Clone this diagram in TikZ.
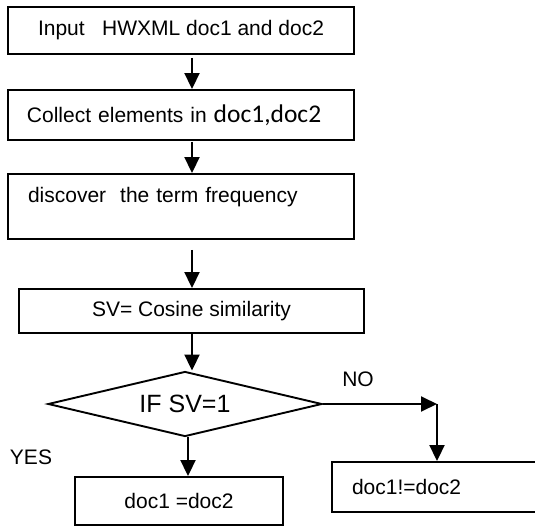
\documentclass[tikz,border=0pt]{standalone}
\usepackage{fontspec}
\setmainfont{Liberation Sans}
\newfontfamily\calfont{Carlito}
\usetikzlibrary{arrows.meta, shapes.geometric, positioning, calc}

\begin{document}
\begin{tikzpicture}[x=1pt, y=-1pt,
    box/.style={draw, line width=1.9pt, inner sep=0pt, font=\fontsize{21}{25}\selectfont},
    flow/.style={line width=1.9pt, -{Triangle[length=16pt, width=15pt]}},
    tag/.style={inner sep=0pt, font=\fontsize{21}{25}\selectfont}]
      \useasboundingbox (0, 0) rectangle (535, 527);
      \coordinate (spine) at (192, 0);
      \coordinate (yesline) at (188, 0);
      \coordinate (turn) at (437, 404);

      \node[box, minimum width=346pt, minimum height=47pt] (input) at (181, 30.5) {Input\ \ \ HWXML doc1 and doc2};
      \node[box, inner xsep=19pt, text width=308pt, align=left, minimum height=50pt] (collect) at (181, 115) {Collect elements in {\calfont\fontsize{25.5}{28}\selectfont doc1,doc2}};
      \node[box, inner xsep=20pt, text width=306pt, align=left, inner ysep=6pt, text height=22pt, text depth=31pt] (tf) at (181, 206.5) {discover\ \ the term frequency};
      \node[box, minimum width=345pt, minimum height=44pt] (cosine) at (191.5, 311) {SV= Cosine similarity};

      \node[draw, diamond, aspect=4.2, line width=1.9pt, inner sep=0pt, minimum width=274pt, minimum height=65pt, font=\fontsize{25}{28}\selectfont] (check) at (185, 404) {IF SV=1\hspace{28pt}};

      \node[box, minimum width=208pt, minimum height=48pt] (same) at (179, 501) {doc1 =doc2};
      \node[box, inner xsep=20pt, text width=173pt, align=left, minimum height=50pt] (differ) at (438.5, 487) {doc1!=doc2};

      \node[tag] (yes) at (31, 457) {YES};
      \node[tag] (no) at (358, 379) {NO};

      \draw[flow, shorten <=3pt] (input.south -| spine) -- (collect.north -| spine);
      \draw[flow, shorten <=1pt] (collect.south -| spine) -- (tf.north -| spine);
      \draw[flow, shorten <=10pt] (tf.south -| spine) -- (cosine.north -| spine);
      \draw[flow] (cosine.south -| spine) -- (check.north -| spine);
      \draw[flow] (check.south -| yesline) -- (same.north -| yesline);
      \draw[flow] (check.east) -- (turn);
      \draw[flow] (turn) -- (differ.north -| turn);

    \end{tikzpicture}
\end{document}
